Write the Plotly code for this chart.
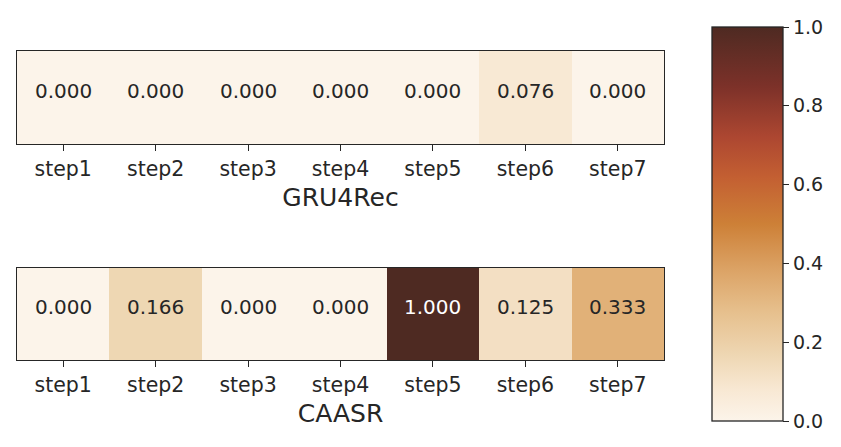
import plotly.graph_objects as go

steps = ["step1", "step2", "step3", "step4", "step5", "step6", "step7"]
gru4rec = [0.000, 0.000, 0.000, 0.000, 0.000, 0.076, 0.000]
caasr = [0.000, 0.166, 0.000, 0.000, 1.000, 0.125, 0.333]
colorbar_ticks = [0.0, 0.2, 0.4, 0.6, 0.8, 1.0]

# the page puts the figure 8px in from the top-left corner, so size it to fit
OFF = 8
W, H = 841 - OFF, 447 - OFF
FONT = "DejaVu Sans"
INK = "#262626"


def px(x):
    return (x - OFF) / W


def py_(y):
    return 1 - (y - OFF) / H


# brownish sequential map
cscale = [
    [0.00, "#fcf4ea"],
    [0.08, "#f8e8d3"],
    [0.17, "#eed6b2"],
    [0.28, "#e6bf8c"],
    [0.38, "#dca467"],
    [0.50, "#cd8037"],
    [0.62, "#c35f32"],
    [0.72, "#ad4731"],
    [0.85, "#7c3129"],
    [1.00, "#4e2a22"],
]

fig = go.Figure()

fig.add_trace(go.Heatmap(
    z=[gru4rec], x=steps, y=["GRU4Rec"], xaxis="x", yaxis="y",
    zmin=0, zmax=1, colorscale=cscale, showscale=False, hoverinfo="skip",
))
fig.add_trace(go.Heatmap(
    z=[caasr], x=steps, y=["CAASR"], xaxis="x2", yaxis="y2",
    zmin=0, zmax=1, colorscale=cscale, hoverinfo="skip",
    colorbar=dict(
        x=px(712), xanchor="left", xpad=0, ypad=0,
        y=py_(224), yanchor="middle",
        thickness=71, len=394, lenmode="pixels",
        outlinewidth=1.3, outlinecolor=INK,
        tickvals=colorbar_ticks, ticktext=[f"{t:.1f}" for t in colorbar_ticks],
        ticks="outside", ticklen=6, tickwidth=1.3, tickcolor=INK,
        tickfont=dict(family=FONT, size=19, color=INK),
    ),
))

# cell value labels (sit a little above the cell centre, like the original)
annotations = []
for xa, ya, row in [("x", "y", gru4rec), ("x2", "y2", caasr)]:
    for s, v in zip(steps, row):
        annotations.append(dict(
            x=s, y=0, xref=xa, yref=ya, text=f"{v:.3f}", showarrow=False,
            yshift=7,
            font=dict(family=FONT, size=20, color="white" if v > 0.6 else INK),
        ))

xdom = [px(17), px(664)]
axis_common = dict(
    showline=True, linewidth=1.3, linecolor=INK, mirror=True,
    ticks="outside", ticklen=6, tickwidth=1.3, tickcolor=INK,
    tickfont=dict(family=FONT, size=20.5, color=INK), showgrid=False,
    zeroline=False,
)
yaxis_common = dict(
    showline=True, linewidth=1.3, linecolor=INK, mirror=True,
    showticklabels=False, ticks="", showgrid=False, zeroline=False,
)

fig.update_layout(
    width=W, height=H,
    margin=dict(l=0, r=0, t=0, b=0),
    paper_bgcolor="white", plot_bgcolor="white",
    font=dict(family=FONT, color=INK),
    annotations=annotations,
    xaxis=dict(domain=xdom, anchor="y",
               title=dict(text="GRU4Rec", font=dict(family=FONT, size=25, color=INK), standoff=8),
               **axis_common),
    yaxis=dict(domain=[py_(144), py_(51)], anchor="x", **yaxis_common),
    xaxis2=dict(domain=xdom, anchor="y2",
                title=dict(text="CAASR", font=dict(family=FONT, size=25, color=INK), standoff=8),
                **axis_common),
    yaxis2=dict(domain=[py_(360), py_(268)], anchor="x2", **yaxis_common),
)

fig.write_html("out.html")
